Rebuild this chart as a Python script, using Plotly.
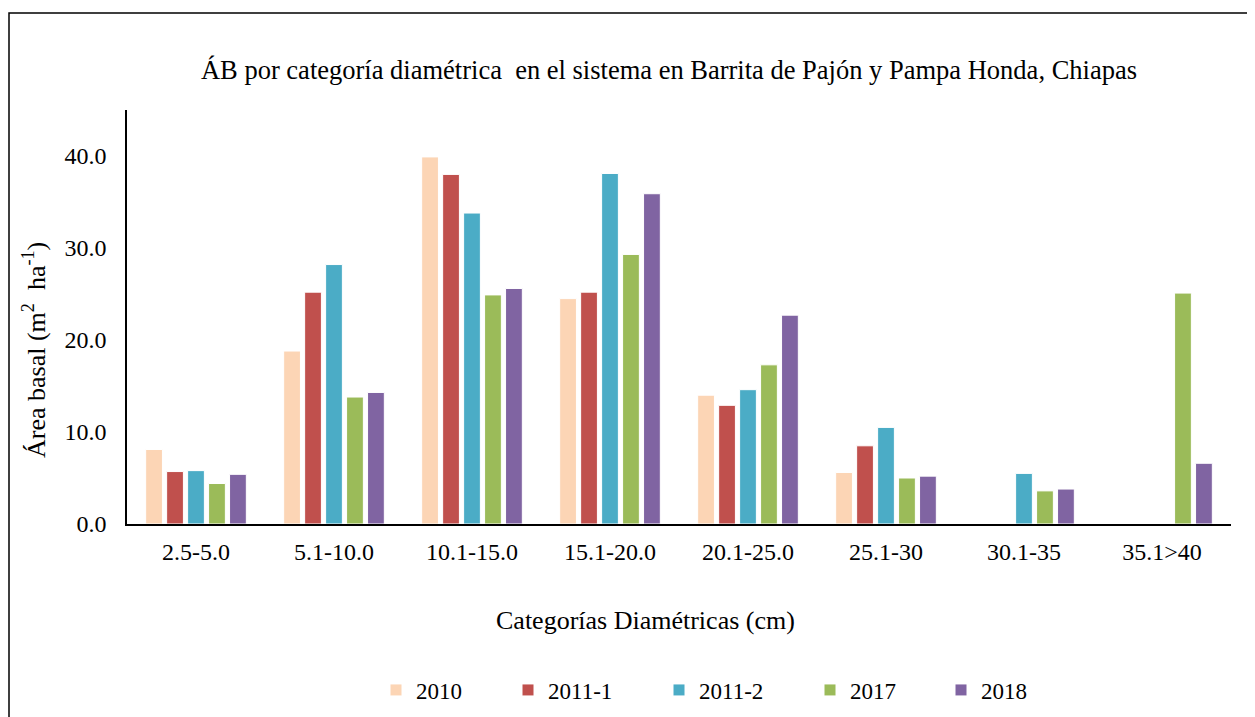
import plotly.graph_objects as go

categories = ["2.5-5.0", "5.1-10.0", "10.1-15.0", "15.1-20.0", "20.1-25.0", "25.1-30", "30.1-35", "35.1>40"]
s2010 = [8.1, 18.8, 39.9, 24.5, 14.0, 5.6, None, None]
s2011_1 = [5.7, 25.2, 38.0, 25.2, 12.9, 8.5, None, None]
s2011_2 = [5.8, 28.2, 33.8, 38.1, 14.6, 10.5, 5.5, None]
s2017 = [4.4, 13.8, 24.9, 29.3, 17.3, 5.0, 3.6, 25.1]
s2018 = [5.4, 14.3, 25.6, 35.9, 22.7, 5.2, 3.8, 6.6]
series_names = ["2010", "2011-1", "2011-2", "2017", "2018"]
colors = ["#FCD5B5", "#C0504D", "#4BACC6", "#9BBB59", "#8064A2"]

FONT = "Liberation Serif, Times New Roman, serif"

# page body has an 8px margin, so figure coords = screen coords - 8
OFF = 8
W, H = 1255 - OFF, 717 - OFF
L, R, T, B = 127 - OFF, W - (1231 - OFF), 110 - OFF, H - (524 - OFF)
pw, ph = W - L - R, H - T - B

def px_x(p):
    return (p - OFF - L) / pw

def px_y(p):
    return (H - B - (p - OFF)) / ph

legend_ids = ["legend", "legend2", "legend3", "legend4", "legend5"]
legend_square_x = [390, 522, 673, 824, 955]  # screen x of each legend swatch

fig = go.Figure()
for name, vals, col, lid in zip(series_names, [s2010, s2011_1, s2011_2, s2017, s2018], colors, legend_ids):
    fig.add_trace(go.Bar(
        x=categories, y=vals, name=name, legend=lid, showlegend=True,
        marker=dict(color=col, line=dict(color="white", width=1)),
    ))

legend_layout = {}
for lid, sx in zip(legend_ids, legend_square_x):
    legend_layout[lid] = dict(
        orientation="h", x=(sx - 14 - OFF) / W, xref="container", xanchor="left",
        y=1 - (690 - OFF) / H, yref="container", yanchor="middle",
        itemwidth=30, font=dict(family=FONT, size=23),
        bgcolor="rgba(0,0,0,0)",
    )

fig.update_layout(
    width=W, height=H,
    showlegend=True,
    margin=dict(l=L, r=R, t=T, b=B),
    paper_bgcolor="white", plot_bgcolor="white",
    barmode="group", bargap=0.24, bargroupgap=0.2,
    font=dict(family=FONT, size=24, color="black"),
    title=dict(
        text="ÁB por categoría diamétrica  en el sistema en Barrita de Pajón y Pampa Honda, Chiapas",
        x=(669 - OFF) / W, xanchor="center", y=1 - (70 - OFF) / H, yanchor="middle",
        font=dict(family=FONT, size=26.5, color="black"),
    ),
    xaxis=dict(
        showline=True, linecolor="black", linewidth=1.5,
        showgrid=False, ticks="", ticklabelstandoff=5,
        tickfont=dict(family=FONT, size=24),
    ),
    yaxis=dict(
        range=[0, 45], tickvals=[0, 10, 20, 30, 40], tickformat=".1f",
        showline=True, linecolor="black", linewidth=1.5,
        showgrid=False, zeroline=False, ticks="", ticklabelstandoff=14,
        tickfont=dict(family=FONT, size=24),
    ),
    annotations=[
        dict(text="Categorías Diamétricas (cm)", xref="paper", yref="paper",
             x=px_x(645), y=px_y(620), xanchor="center", yanchor="middle",
             showarrow=False, font=dict(family=FONT, size=26)),
        dict(text="Área basal (m<sup>2</sup>  ha<sup>-1</sup>)", xref="paper", yref="paper",
             x=px_x(34), y=px_y(350), xanchor="center", yanchor="middle", textangle=-90,
             showarrow=False, font=dict(family=FONT, size=26)),
    ],
    shapes=[dict(
        type="rect", xref="paper", yref="paper",
        x0=px_x(9), x1=px_x(1255 + 10), y0=px_y(717 + 10), y1=px_y(13),
        line=dict(color="black", width=1.5), fillcolor="rgba(0,0,0,0)", layer="below",
    )],
    **legend_layout,
)

fig.write_html("out.html")
